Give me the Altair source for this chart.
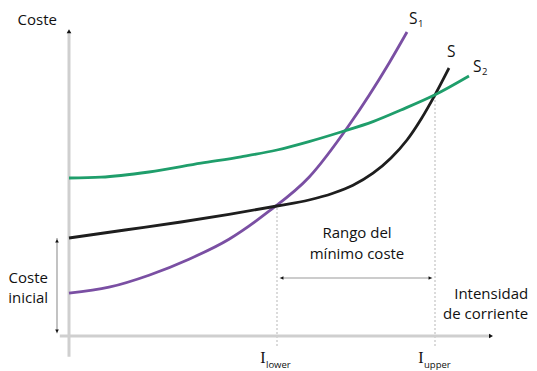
import altair as alt
import pandas as pd

# Curve data (x: intensidad de corriente, y: coste), arbitrary units
x_s2 = [0.0, 0.8, 2.0, 3.3, 4.3, 5.2, 6.0, 6.8, 7.6, 8.3, 9.15, 10.0]
y_s2 = [3.95, 3.97, 4.1, 4.32, 4.48, 4.65, 4.86, 5.1, 5.36, 5.65, 6.03, 6.5]

x_s = [0.0, 1.4, 2.8, 4.0, 5.2, 6.0, 6.6, 7.1, 7.6, 8.05, 8.45, 8.8, 9.15, 9.5]
y_s = [2.45, 2.65, 2.85, 3.04, 3.25, 3.4, 3.57, 3.77, 4.07, 4.45, 4.9, 5.42, 6.03, 6.7]

x_s1 = [0.0, 1.0, 2.0, 3.0, 4.0, 5.0, 6.0, 7.0, 8.0, 8.45]
y_s1 = [1.07, 1.22, 1.52, 1.92, 2.42, 3.12, 3.97, 5.27, 6.82, 7.6]

series_names = ["S1", "S", "S2"]
series_colors = ["#7a4fa3", "#1e1e1e", "#1f9e6b"]

i_lower = 5.2
i_upper = 9.15
cost_at_lower = 3.25
cost_at_upper = 6.03
initial_cost = 2.45

H = 362
XD = [-1.525, 11.5]
YD = [8.2 - H / 40.0, 8.2]

rows = []
for name, xs_, ys_ in [("S1", x_s1, y_s1), ("S", x_s, y_s), ("S2", x_s2, y_s2)]:
    for i, (a, b) in enumerate(zip(xs_, ys_)):
        rows.append({"serie": name, "x": a, "y": b, "o": i})
curves = pd.DataFrame(rows)

xs = alt.Scale(domain=XD, nice=False, zero=False)
ys = alt.Scale(domain=YD, nice=False, zero=False)
X = lambda f: alt.X(f, type="quantitative", scale=xs, axis=None)
Y = lambda f: alt.Y(f, type="quantitative", scale=ys, axis=None)

# axes
axes = pd.DataFrame([
    {"x": 0.0, "x2": 0.0, "y": -0.52, "y2": 7.6},
    {"x": -0.23, "x2": 10.55, "y": 0.0, "y2": 0.0},
])
axis_rules = alt.Chart(axes).mark_rule(color="#cfcfcf", strokeWidth=3).encode(
    x=X("x"), x2="x2", y=Y("y"), y2="y2")

heads = pd.DataFrame([
    {"x": 0.0, "y": 7.62, "s": "triangle-up"},
    {"x": 10.55, "y": 0.0, "s": "triangle-right"},
])
axis_heads = alt.Chart(heads).mark_point(filled=True, color="#111", size=22, opacity=1).encode(
    x=X("x"), y=Y("y"), shape=alt.Shape("s:N", scale=None))

# dashed guides
guides = pd.DataFrame([
    {"x": i_lower, "y": -0.25, "y2": cost_at_lower},
    {"x": i_upper, "y": -0.25, "y2": cost_at_upper},
])
guide_rules = alt.Chart(guides).mark_rule(color="#d0d0d0", strokeWidth=1.5, strokeDash=[2, 2]).encode(
    x=X("x"), y=Y("y"), y2="y2")

# double arrows
arrows = pd.DataFrame([
    {"x": i_lower + 0.07, "x2": i_upper - 0.07, "y": 1.45, "y2": 1.45},
    {"x": -0.3, "x2": -0.3, "y": initial_cost, "y2": 0.07},
])
arrow_rules = alt.Chart(arrows).mark_rule(color="#9a9a9a", strokeWidth=1.2).encode(
    x=X("x"), x2="x2", y=Y("y"), y2="y2")
arrow_heads_df = pd.DataFrame([
    {"x": i_lower + 0.12, "y": 1.45, "s": "triangle-left"},
    {"x": i_upper - 0.12, "y": 1.45, "s": "triangle-right"},
    {"x": -0.3, "y": initial_cost - 0.07, "s": "triangle-up"},
    {"x": -0.3, "y": 0.12, "s": "triangle-down"},
])
arrow_heads = alt.Chart(arrow_heads_df).mark_point(filled=True, color="#111", size=14, opacity=1).encode(
    x=X("x"), y=Y("y"), shape=alt.Shape("s:N", scale=None))

# curves
lines = alt.Chart(curves).mark_line(strokeWidth=2.8, interpolate="monotone").encode(
    x=X("x"), y=Y("y"), order="o:Q",
    color=alt.Color("serie:N", scale=alt.Scale(domain=series_names, range=series_colors), legend=None))

FONT = "Open Sans"
FS = 15
texts = pd.DataFrame([
    {"x": -0.3, "y": 7.9, "t": "Coste", "a": "right"},
    {"x": -1.02, "y": 1.46, "t": "Coste", "a": "center"},
    {"x": -1.02, "y": 0.94, "t": "inicial", "a": "center"},
    {"x": 7.2, "y": 2.58, "t": "Rango del", "a": "center"},
    {"x": 7.2, "y": 2.04, "t": "mínimo coste", "a": "center"},
    {"x": 11.48, "y": 1.06, "t": "Intensidad", "a": "right"},
    {"x": 11.48, "y": 0.54, "t": "de corriente", "a": "right"},
])
labels = []
for a in ["right", "center"]:
    labels.append(alt.Chart(texts[texts.a == a]).mark_text(
        font=FONT, fontSize=FS, align=a, baseline="middle", color="#111").encode(
        x=X("x"), y=Y("y"), text="t:N"))

# series labels
slab = pd.DataFrame([
    {"x": 8.5, "y": 7.92, "t": "S", "sub": "1"},
    {"x": 9.45, "y": 7.1, "t": "S", "sub": ""},
    {"x": 10.1, "y": 6.72, "t": "S", "sub": "2"},
])
s_main = alt.Chart(slab).mark_text(font=FONT, fontSize=15.5, align="left", baseline="middle", color="#111").encode(
    x=X("x"), y=Y("y"), text="t:N")
s_sub = alt.Chart(slab).mark_text(font=FONT, fontSize=9.5, align="left", baseline="middle", dx=9, dy=5, color="#111").encode(
    x=X("x"), y=Y("y"), text="sub:N")

# I labels
ilab = pd.DataFrame([
    {"x": i_lower, "sub": "lower", "ym": -0.55, "ys": -0.72},
    {"x": i_upper, "sub": "upper", "ym": -0.55, "ys": -0.72},
])
i_main = alt.Chart(ilab).mark_text(font="Liberation Serif", fontSize=16, align="center", baseline="middle",
                                   dx=-14, color="#111").encode(
    x=X("x"), y=Y("ym"), text=alt.value("I"))
i_sub = alt.Chart(ilab).mark_text(font=FONT, fontSize=9.5, align="left", baseline="middle",
                                  dx=-11, color="#111").encode(
    x=X("x"), y=Y("ys"), text="sub:N")

chart = alt.layer(axis_rules, guide_rules, arrow_rules, lines, axis_heads, arrow_heads,
                  *labels, s_main, s_sub, i_main, i_sub).properties(
    width=521, height=H,
    autosize=alt.AutoSizeParams(type="none"), padding=0,
).configure_view(stroke=None)

chart.save("out.html", embed_options={"renderer": "svg", "actions": False})
